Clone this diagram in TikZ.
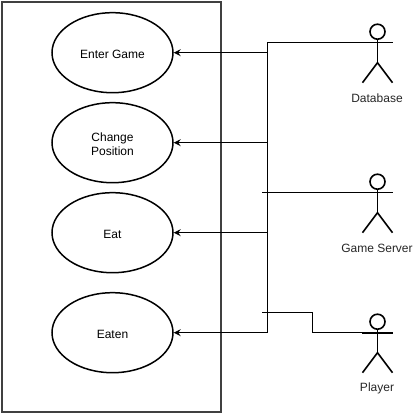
\documentclass[tikz,border=0pt]{standalone}
\usepackage{fontspec}
\setmainfont{Liberation Sans}
\usetikzlibrary{arrows.meta,shapes.geometric}
\tikzset{
  usecase/.style={draw=black,line width=1.5pt,ellipse,minimum width=121pt,minimum height=80pt,inner sep=0pt,align=center,font=\fontsize{12}{14}\selectfont},
  head/.style={draw=black,line width=1.6pt,circle,minimum size=15pt,inner sep=0pt},
  limb/.style={draw=black,line width=1.6pt},
  link/.style={draw=black,line width=1pt},
  flow/.style={link,-{Stealth[length=7pt,width=7pt,inset=2.5pt]}},
  actorlabel/.style={font=\fontsize{12}{15}\selectfont,inner sep=0pt,text=black!85}
}
\newcommand{\casetxt}[1]{\rule{0pt}{12pt}#1}
\newcommand{\stick}[4]{% name, y of arm, label, label-name
  \node[head] (#1head) at (377.5,#2-11) {};
  \coordinate (#1arml) at (362,#2);
  \coordinate (#1armr) at (392.5,#2);
  \coordinate (#1hip) at (377.5,#2+20);
  \coordinate (#1footl) at (362.5,#2+40);
  \coordinate (#1footr) at (392.5,#2+40);
  \draw[limb] (#1arml) -- (#1armr);
  \draw[limb] (#1head) -- (#1hip);
  \draw[limb] (#1footl) -- (#1hip) -- (#1footr);
  \node[actorlabel] (#4) at (377,#2+56) {#3};
}
\begin{document}
\begin{tikzpicture}[x=1pt,y=-1pt]
\useasboundingbox (0,0) rectangle (415,414);
\begin{scope}[shift={(0,0.7)}]
\node[draw=black!75,line width=2pt,minimum width=219.5pt,minimum height=409.5pt,inner sep=0pt] (system) at (111.7,206.3) {};
\node[usecase] (enter) at (112.5,52) {\casetxt{Enter Game}};
\node[usecase] (change) at (112.5,142) {\casetxt{Change}\\Position};
\node[usecase] (eat) at (112.5,232) {\casetxt{Eat}};
\node[usecase] (eaten) at (112.5,332) {\casetxt{Eaten}};
\stick{db}{42}{Database}{dblabel}
\stick{gs}{192}{Game Server}{gslabel}
\stick{pl}{332}{Player}{pllabel}
\coordinate (bus) at (267.5,42);
\coordinate (gsend) at (262,192);
\coordinate (plend) at (262,312);
\coordinate (pljog) at (312.5,312);
\draw[link] (dbarml) -- (bus) -- (267.5,332);
\draw[flow] (bus |- enter) -- (enter);
\draw[flow] (bus |- change) -- (change);
\draw[flow] (bus |- eat) -- (eat);
\draw[flow] (bus |- eaten) -- (eaten);
\draw[link] (gsarml) -- (gsend);
\draw[link] (plarml) -- (pljog |- plarml) -- (pljog) -- (plend);
\end{scope}
\end{tikzpicture}
\end{document}
